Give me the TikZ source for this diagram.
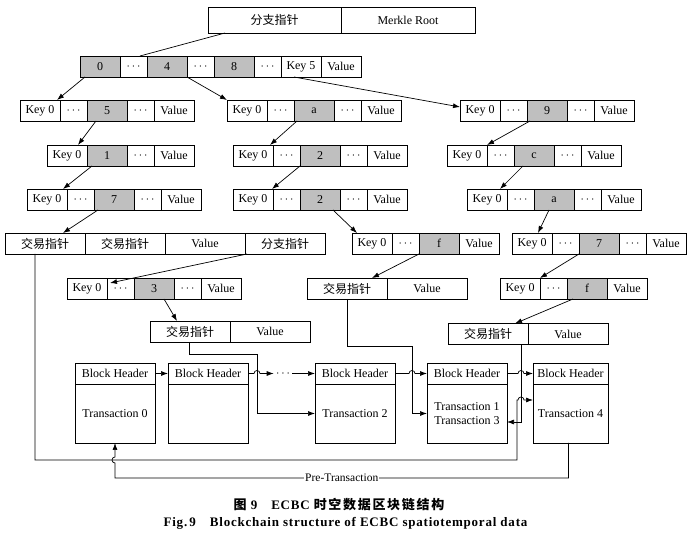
\documentclass[tikz,border=0pt]{standalone}
\usepackage{fontspec}
\setmainfont{Liberation Serif}
\newfontfamily\cjk{Noto Sans CJK SC}
\newfontfamily\cjkcap[LetterSpace=13]{Noto Sans CJK SC}
\newfontfamily\capfont[LetterSpace=6]{Liberation Serif}
\usetikzlibrary{positioning,arrows.meta}

% one row of cells: name, x of left edge, y of middle, list of text/style
\newcommand{\cellrow}[4]{%
  \node[inner sep=0, outer sep=0, minimum size=0, anchor=east] (#1-0) at (#2,#3) {};
  \foreach \t/\s [count=\i] in {#4} {
    \pgfmathtruncatemacro{\j}{\i-1}
    \node[\s, right=0pt of #1-\j] (#1-\i) {\t};
  }
}

\begin{document}
\begin{tikzpicture}[x=1pt, y=-1pt, line width=0.7pt,
    >={Latex[length=7pt,width=5pt]},
    keycell/.style={draw, minimum width=40, minimum height=21, inner sep=0, outer sep=0,
      font=\fontsize{12}{13}\selectfont},
    gapcell/.style={keycell, minimum width=27},
    hitcell/.style={keycell, fill=gray!50},
    valcell/.style={keycell, minimum width=80},
    ptrcell/.style={valcell, font=\cjk\fontsize{12}{14}\selectfont},
    blk/.style={draw, minimum width=80, inner sep=0, outer sep=0, align=center,
      font=\fontsize{12}{14}\selectfont}]
    \useasboundingbox (0,0) rectangle (694,534);

    % Root
    \node[ptrcell, minimum width=133, minimum height=26, anchor=west] (root-1) at (208,20) {分支指针};
    \node[valcell, minimum width=134, minimum height=26, right=0pt of root-1] (root-2) {Merkle Root};

    % Tree rows
    \cellrow{r1}{80}{66.5}{0/hitcell, $\cdots$/gapcell, 4/hitcell, $\cdots$/gapcell, 8/hitcell, $\cdots$/gapcell, Key 5/keycell, Value/keycell}
    \cellrow{r2a}{20}{110.5}{Key 0/keycell, $\cdots$/gapcell, 5/hitcell, $\cdots$/gapcell, Value/keycell}
    \cellrow{r2b}{227}{110.5}{Key 0/keycell, $\cdots$/gapcell, a/hitcell, $\cdots$/gapcell, Value/keycell}
    \cellrow{r2c}{460}{110.5}{Key 0/keycell, $\cdots$/gapcell, 9/hitcell, $\cdots$/gapcell, Value/keycell}
    \cellrow{r3a}{47}{155.5}{Key 0/keycell, 1/hitcell, $\cdots$/gapcell, Value/keycell}
    \cellrow{r3b}{233}{155.5}{Key 0/keycell, $\cdots$/gapcell, 2/hitcell, $\cdots$/gapcell, Value/keycell}
    \cellrow{r3c}{447}{155.5}{Key 0/keycell, $\cdots$/gapcell, c/hitcell, $\cdots$/gapcell, Value/keycell}
    \cellrow{r4a}{27}{199.5}{Key 0/keycell, $\cdots$/gapcell, 7/hitcell, $\cdots$/gapcell, Value/keycell}
    \cellrow{r4b}{233}{199.5}{Key 0/keycell, $\cdots$/gapcell, 2/hitcell, $\cdots$/gapcell, Value/keycell}
    \cellrow{r4c}{467}{199.5}{Key 0/keycell, $\cdots$/gapcell, a/hitcell, $\cdots$/gapcell, Value/keycell}
    \cellrow{r5a}{5}{243.5}{交易指针/ptrcell, 交易指针/ptrcell, Value/valcell, 分支指针/ptrcell}
    \cellrow{r5b}{352}{243.5}{Key 0/keycell, $\cdots$/gapcell, f/hitcell, Value/keycell}
    \cellrow{r5c}{512}{243.5}{Key 0/keycell, $\cdots$/gapcell, 7/hitcell, $\cdots$/gapcell, Value/keycell}
    \cellrow{r6a}{67}{288.5}{Key 0/keycell, $\cdots$/gapcell, 3/hitcell, $\cdots$/gapcell, Value/keycell}
    \cellrow{r6b}{307}{288.5}{交易指针/ptrcell, Value/valcell}
    \cellrow{r6c}{500}{288.5}{Key 0/keycell, $\cdots$/gapcell, f/hitcell, Value/keycell}
    \cellrow{r7a}{150}{331.5}{交易指针/ptrcell, Value/valcell}
    \cellrow{r7b}{448}{334}{交易指针/ptrcell, Value/valcell}

    % Tree links
    \draw ([xshift=17]root-1.south west) -- ([xshift=20]r1-2.north west);
    \draw[->] ([xshift=5]r1-1.south west) -- ([xshift=-3]r2a-1.north east);
    \draw[->] (r1-3.south east) -- (r2b-1.north west);
    \draw[->] ([xshift=13]r1-7.south west) -- ([yshift=3.5]r2c-1.west);
    \draw[->] ([xshift=9]r2a-3.south west) -- ([xshift=-9]r3a-1.north east);
    \draw[->] ([xshift=3]r2b-3.south west) -- ([xshift=-3]r3b-1.north east);
    \draw[->] ([xshift=3]r2c-3.south west) -- (r3c-1.north east);
    \draw[->] ([xshift=5]r3a-2.south west) -- ([xshift=-4]r4a-1.north east);
    \draw[->] (r3b-3.south west) -- ([xshift=-1]r4b-1.north east);
    \draw[->] ([xshift=9]r3c-3.south west) -- ([xshift=-7]r4c-1.north east);
    \draw[->] ([xshift=4]r4a-3.south west) -- ([xshift=-22]r5a-1.north east);
    \draw[->] ([xshift=-7]r4b-3.south east) -- ([xshift=5]r5b-1.north west);
    \draw[->] ([xshift=15]r4c-3.south west) -- ([xshift=-14]r5c-1.north east);
    \draw[->] ([xshift=2]r5a-4.south west) -- ([xshift=3,yshift=-5]r6a-2.north west);
    \draw[->] ([xshift=-10]r6a-3.south east) -- ([xshift=27]r7a-1.north west);
    \draw[->] (r5b-3.south west) -- ([xshift=-15]r6b-1.north east);
    \draw[->] (r5c-3.south west) -- (r6c-1.north east);
    \draw[->] ([xshift=6]r6c-3.south west) -- ([xshift=-13]r7b-1.north east);

    % Blocks
    \foreach \n/\x/\w/\txt in {1/115/80/Transaction 0, 2/208/80/{}, 3/355/80/Transaction 2,
        4/467/80/Transaction 1\\Transaction 3, 5/570.5/75/Transaction 4} {
      \node[blk, minimum width=\w, minimum height=21] (h\n) at (\x,373.5) {Block Header};
      \node[blk, minimum width=\w, minimum height=59] (t\n) at (\x,413.5) {\txt};
    }
    \node[font=\fontsize{12}{13}\selectfont, inner sep=2pt] (more) at (283,373.5) {$\cdots$};

    % Block chain
    \draw[->] (h1) -- (h2);
    \draw[->] (h2.east) -- (254,373.5) arc[start angle=180, end angle=360, radius=3] -- (more);
    \draw[->] (more) -- (h3);
    \draw[->] (h3.east) -- (409,373.5) arc[start angle=180, end angle=360, radius=3] -- (h4.west);
    \draw[->] (h4.east) -- (518,373.5) arc[start angle=180, end angle=360, radius=3] -- (h5.west);

    % Transaction pointers
    \draw[->] ([xshift=39]r7a-1.south west) |- (257,354) |- (t3.west);
    \draw[->] ([xshift=40]r6b-1.south west) |- (412,346) |- (t4.west);
    \draw[->] ([xshift=73]r7b-1.south west) |- ([yshift=-8.5]t4.east);
    \draw[->] ([xshift=30]r5a-1.south west) |- (517,460) -- (517,400) -- (518,400)
        arc[start angle=180, end angle=360, radius=3] -- ([yshift=13.5]t5.west);

    % Pre-Transaction
    \draw[->] ([xshift=-2]t5.south) -- (568.5,478)
        -- node[fill=white, inner sep=1pt, font=\fontsize{11.5}{13}\selectfont] (pre) {Pre-Transaction} (115,478)
        -- (115,463) arc[start angle=90, end angle=270, radius=3] -- (t1.south);

    % Caption
    \node[font=\capfont\fontsize{13}{14}\selectfont\bfseries] (cap1) at (339,505)
        {{\cjkcap\fontsize{13}{14}\selectfont 图}\ 9\hspace{14pt}ECBC\ {\cjkcap\fontsize{13}{14}\selectfont 时空数据区块链结构}};
    \node[font=\capfont\fontsize{13}{14}\selectfont\bfseries] (cap2) at (345.5,523)
        {Fig.\,9\hspace{14pt}Blockchain structure of ECBC spatiotemporal data};
\end{tikzpicture}
\end{document}
